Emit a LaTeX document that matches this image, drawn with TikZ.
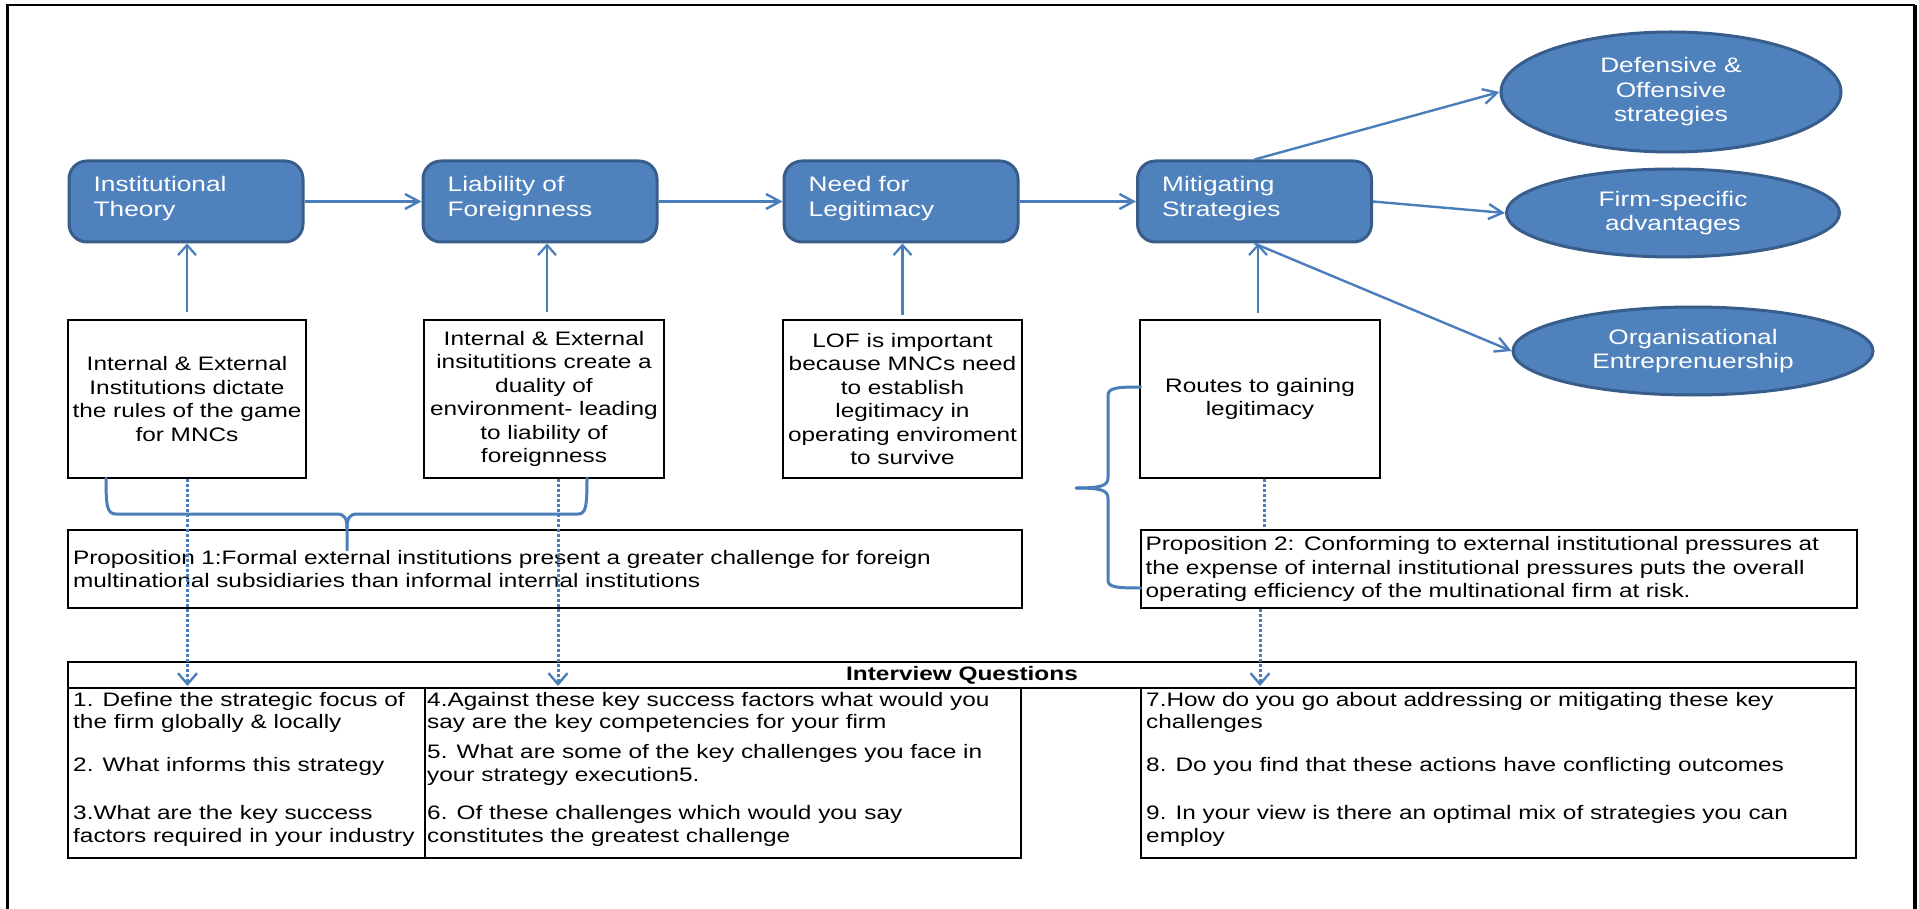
\documentclass[tikz,border=0pt]{standalone}
\usepackage{fontspec}
\setmainfont{Liberation Sans}[FakeStretch=1.25]
\usetikzlibrary{arrows.meta,shapes.geometric}
\definecolor{bfill}{HTML}{4F81BD}
\definecolor{bdraw}{HTML}{385D8A}
\definecolor{ablue}{HTML}{4A7EBB}
\newcommand{\fsm}{\fontsize{19.5}{23.5}\selectfont}
\newcommand{\fsmt}{\fontsize{19.5}{21.5}\selectfont}
\newcommand{\fbg}{\fontsize{21}{24.5}\selectfont}
\begin{document}
\begin{tikzpicture}[x=1pt,y=-1pt,
 bluebox/.style={draw=bdraw, fill=bfill, line width=3pt, rounded corners=18pt, minimum width=234pt, minimum height=81pt, inner sep=0pt},
 bluetext/.style={text=white, font=\fbg, align=left, inner sep=0pt, anchor=west},
 blueell/.style={ellipse, draw=bdraw, fill=bfill, line width=3pt, text=white, font=\fbg, align=center, inner sep=0pt},
 whitebox/.style={draw=black, line width=2pt, minimum height=158pt, font=\fsm, align=center, inner sep=0pt},
 propbox/.style={draw=black, line width=2pt, minimum height=78pt, font=\fsm, align=left, inner xsep=5pt, inner ysep=0pt},
 cell/.style={draw=black, line width=2pt, inner sep=0pt},
 celltext/.style={font=\fsm, align=left, inner sep=0pt, anchor=west},
 harrow/.style={draw=ablue, line width=2.4pt, -{Straight Barb[length=14pt,width=15pt,line width=2.4pt]}},
 varrow/.style={draw=ablue, line width=2.2pt, -{Straight Barb[length=10pt,width=18pt,line width=2.2pt]}},
 dotline/.style={draw=ablue, line width=3pt, dash pattern=on 2.5pt off 2.5pt},
 dotarrow/.style={dotline, -{Straight Barb[length=11pt,width=19pt,line width=2.4pt]}},
 bracestyle/.style={draw=ablue, line width=3pt, line cap=round},
]
\useasboundingbox (0,0) rectangle (1919,909);
% frame
\draw[line width=2.5pt] (7.5,909) -- (7.5,5) -- (1915,5);
\draw[line width=4pt] (1915,5) -- (1915,909);

% blue boxes
\node[bluebox] (b1) at (186,201.5) {};
\node[bluebox] (b2) at (540,201.5) {};
\node[bluebox] (b3) at (901,201.5) {};
\node[bluebox] (b4) at (1254.5,201.5) {};
\node[bluetext] (t1) at ([xshift=26pt,yshift=3pt]b1.west) {Institutional\\Theory};
\node[bluetext] (t2) at ([xshift=26pt,yshift=3pt]b2.west) {Liability of\\Foreignness};
\node[bluetext] (t3) at ([xshift=26pt,yshift=3pt]b3.west) {Need for\\Legitimacy};
\node[bluetext] (t4) at ([xshift=26pt,yshift=3pt]b4.west) {Mitigating\\Strategies};

% ellipses
\node[blueell, minimum width=340pt, minimum height=120pt] (e1) at (1671,92) {Defensive \&\\Offensive\\strategies};
\node[blueell, minimum width=333pt, minimum height=88pt] (e2) at (1673,213) {Firm-specific\\advantages};
\node[blueell, minimum width=360pt, minimum height=88pt] (e3) at (1693,351) {Organisational\\Entreprenuership};

% white boxes
\node[whitebox, minimum width=238pt] (w1) at (187,399) {Internal \& External\\Institutions dictate\\the rules of the game\\for MNCs};
\node[whitebox, minimum width=240pt] (w2) at (544,399) {Internal \& External\\insitutitions create a\\duality of\\environment- leading\\to liability of\\foreignness};
\node[whitebox, minimum width=239pt] (w3) at (902.5,399) {LOF is important\\because MNCs need\\to establish\\legitimacy in\\operating enviroment\\to survive};
\node[whitebox, minimum width=240pt] (w4) at (1260,399) {Routes to gaining\\legitimacy};

% propositions
\node[propbox, text width=944pt] (p1) at (545,569) {Proposition 1:Formal external institutions present a greater challenge for foreign\\multinational subsidiaries than informal internal institutions};
\node[propbox, text width=706.4pt] (p2) at (1498.8,569) {Proposition 2: Conforming to external institutional pressures at\\the expense of internal institutional pressures puts the overall\\operating efficiency of the multinational firm at risk.};

% table
\node[cell, minimum width=1788pt, minimum height=26pt, font=\bfseries\fsm] (hdr) at (962,675) {Interview Questions};
\node[cell, minimum width=357pt, minimum height=170pt] (c1) at (246.5,773) {};
\node[cell, minimum width=596pt, minimum height=170pt] (c2) at (723,773) {};
\node[cell, minimum width=715pt, minimum height=170pt] (c3) at (1498.5,773) {};

\node[celltext, font=\fsmt] (q1) at (73,712.4) {1. Define the strategic focus of\\the firm globally \& locally};
\node[celltext] (q2) at (73,766.7) {2. What informs this strategy};
\node[celltext, font=\fsm] (q3) at (73,826) {3.What are the key success\\factors required in your industry};
\node[celltext, font=\fsmt] (q4) at (427,712.4) {4.Against these key success factors what would you\\say are the key competencies for your firm};
\node[celltext] (q5) at (427,765) {5. What are some of the key challenges you face in\\your strategy execution5.};
\node[celltext] (q6) at (427,826) {6. Of these challenges which would you say\\constitutes the greatest challenge};
\node[celltext, font=\fsmt] (q7) at (1146,712.4) {7.How do you go about addressing or mitigating these key\\challenges};
\node[celltext] (q8) at (1146,766.7) {8. Do you find that these actions have conflicting outcomes};
\node[celltext] (q9) at (1146,826) {9. In your view is there an optimal mix of strategies you can\\employ};

% connectors between blue shapes
\draw[harrow] (b1.east) -- (b2.west);
\draw[harrow] (b2.east) -- (b3.west);
\draw[harrow] (b3.east) -- (b4.west);
\draw[harrow] (b4.north) -- (e1.west);
\draw[harrow] (b4.east) -- (e2.west);
\draw[harrow] (b4.south) -- (e3.west);

% vertical arrows
\coordinate (a1) at (w1.north);
\coordinate (a2) at ([xshift=3pt]w2.north);
\coordinate (a3) at (w3.north);
\coordinate (a4) at ([xshift=-2pt]w4.north);
\draw[varrow, shorten <=7pt] (a1) -- (a1 |- b1.south);
\draw[varrow, shorten <=7pt] (a2) -- (a2 |- b2.south);
\draw[varrow, shorten <=4pt] (a3) -- (a3 |- b3.south);
\draw[varrow, shorten <=6pt] (a4) -- (a4 |- b4.south);

% braces
\draw[bracestyle] (106,478) .. controls (106,506) and (107,514) .. (116,514) -- (337,514) .. controls (344,514) and (347,518) .. (347,528) -- (347,550);
\draw[bracestyle] (347,528) .. controls (347,518) and (350,514) .. (357,514) -- (578,514) .. controls (586,514) and (587,506) .. (587,478);
\draw[bracestyle] (1140.6,387) .. controls (1115,387) and (1108,388) .. (1108,396) -- (1108,478) .. controls (1108,486) and (1100,488) .. (1076,488);
\draw[bracestyle] (1076,488) .. controls (1100,488) and (1108,490) .. (1108,498) -- (1108,580) .. controls (1108,587) and (1115,588) .. (1140.6,588);

% dotted connectors
\coordinate (d1) at ([xshift=0.5pt]w1.south);
\coordinate (d2) at ([xshift=14pt]w2.south);
\coordinate (d3) at ([xshift=4pt]w4.south);
\coordinate (d4) at (w4.south |- p2.south);
\draw[dotarrow, shorten >=3pt] (d1) -- (d1 |- hdr.south);
\draw[dotarrow, shorten >=3pt] (d2) -- (d2 |- hdr.south);
\draw[dotline] (d3) -- (d3 |- p2.north);
\draw[dotarrow, shorten >=3pt] (d4) -- (d4 |- hdr.south);
\end{tikzpicture}
\end{document}
